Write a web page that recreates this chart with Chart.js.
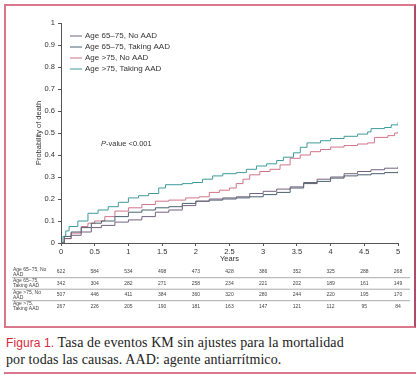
<!DOCTYPE html>
<html>
<head>
<meta charset="utf-8">
<script src="https://cdn.jsdelivr.net/npm/chart.js@4"></script>
<style>
  body { margin: 0; width: 420px; height: 380px; background: #fff; position: relative; overflow: hidden; }
  #frame { position: absolute; left: 4px; top: 4px; width: 408px; height: 320px; border: 2px solid #d9778c; border-right-color: #b04a66; }
  #c { position: absolute; left: 0; top: 0; }
  #cap { position: absolute; left: 6px; top: 334px; font: 14px "Liberation Serif", serif; color: #222; line-height: 17px; letter-spacing: 0.1px; }
  #cap b { font: 500 12px "Liberation Sans", sans-serif; color: #d6283c; }
  #rule { position: absolute; left: 4px; top: 372px; width: 412px; height: 2px; background: #d9778c; }
</style>
</head>
<body>
<div id="frame"></div>
<canvas id="c" width="420" height="330"></canvas>
<div id="cap"><b>Figura 1.</b> Tasa de eventos KM sin ajustes para la mortalidad<br>por todas las causas. AAD: agente antiarrítmico.</div>
<div id="rule"></div>
<script>
const seriesNames = ["Age 65\u201375, No AAD", "Age 65\u201375, Taking AAD", "Age >75, No AAD", "Age >75, Taking AAD"];
const tableLabels = [["Age 65\u201375, No", "AAD"], ["Age 65\u201375,", "Taking AAD"], ["Age >75, No", "AAD"], ["Age >75,", "Taking AAD"]];
const xTicks = [0, 0.5, 1, 1.5, 2, 2.5, 3, 3.5, 4, 4.5, 5];

// time (years) and cumulative probability for each curve
const young_noAAD_t = [0, 0.05, 0.15, 0.3, 0.45, 0.6, 0.8, 1.0, 1.2, 1.4, 1.6, 1.8, 2.0, 2.2, 2.4, 2.6, 2.8, 3.0, 3.2, 3.4, 3.6, 3.8, 4.0, 4.2, 4.4, 4.6, 4.8, 5];
const young_noAAD_p = [0, 0.02, 0.035, 0.05, 0.07, 0.08, 0.095, 0.105, 0.12, 0.14, 0.15, 0.17, 0.19, 0.2, 0.205, 0.21, 0.225, 0.235, 0.245, 0.255, 0.275, 0.29, 0.3, 0.315, 0.325, 0.333, 0.34, 0.347];

const young_AAD_t = [0, 0.05, 0.15, 0.3, 0.45, 0.6, 0.8, 1.0, 1.2, 1.4, 1.6, 1.8, 2.0, 2.2, 2.4, 2.6, 2.8, 3.0, 3.2, 3.4, 3.6, 3.8, 4.0, 4.2, 4.4, 4.6, 4.8, 5];
const young_AAD_p = [0, 0.03, 0.05, 0.07, 0.09, 0.1, 0.12, 0.14, 0.15, 0.16, 0.165, 0.18, 0.19, 0.195, 0.2, 0.205, 0.21, 0.22, 0.23, 0.25, 0.27, 0.28, 0.295, 0.305, 0.31, 0.315, 0.32, 0.325];

const old_noAAD_t = [0, 0.05, 0.15, 0.3, 0.4, 0.5, 0.65, 0.8, 1.0, 1.2, 1.4, 1.6, 1.85, 2.05, 2.2, 2.35, 2.5, 2.6, 2.7, 2.8, 2.95, 3.1, 3.25, 3.4, 3.55, 3.7, 3.85, 4.0, 4.2, 4.4, 4.55, 4.65, 4.85, 4.95, 5];
const old_noAAD_p = [0, 0.02, 0.045, 0.075, 0.09, 0.1, 0.12, 0.145, 0.16, 0.175, 0.19, 0.195, 0.205, 0.21, 0.23, 0.24, 0.25, 0.27, 0.29, 0.31, 0.325, 0.335, 0.355, 0.385, 0.4, 0.415, 0.425, 0.436, 0.443, 0.45, 0.455, 0.48, 0.488, 0.5, 0.505];

const old_AAD_t = [0, 0.03, 0.07, 0.12, 0.25, 0.4, 0.55, 0.7, 0.85, 1.0, 1.15, 1.3, 1.45, 1.55, 1.8, 1.95, 2.1, 2.25, 2.4, 2.6, 2.75, 2.9, 3.05, 3.2, 3.3, 3.45, 3.55, 3.65, 3.85, 4.0, 4.2, 4.4, 4.55, 4.6, 4.8, 4.9, 5];
const old_AAD_p = [0, 0.03, 0.055, 0.075, 0.1, 0.135, 0.15, 0.165, 0.185, 0.205, 0.215, 0.225, 0.25, 0.265, 0.27, 0.275, 0.29, 0.305, 0.315, 0.32, 0.335, 0.35, 0.36, 0.375, 0.39, 0.41, 0.435, 0.455, 0.465, 0.475, 0.485, 0.495, 0.505, 0.52, 0.525, 0.537, 0.548];

// number at risk
const risk_young_noAAD = [622, 584, 534, 498, 473, 428, 386, 352, 325, 288, 268];
const risk_young_AAD = [342, 304, 282, 271, 258, 234, 221, 202, 189, 161, 149];
const risk_old_noAAD = [507, 446, 411, 384, 360, 320, 280, 244, 220, 195, 170];
const risk_old_AAD = [267, 226, 205, 190, 181, 163, 147, 121, 112, 95, 84];

const pValueText = ["P", "-value <0.001"];

const colors = ["#74627f", "#4a616e", "#d0748a", "#3f9a9c"];

function pts(t, p) {
  return t.map((x, i) => ({ x: x, y: p[i] }));
}

const curves = [
  pts(young_noAAD_t, young_noAAD_p),
  pts(young_AAD_t, young_AAD_p),
  pts(old_noAAD_t, old_noAAD_p),
  pts(old_AAD_t, old_AAD_p)
];
const riskRows = [risk_young_noAAD, risk_young_AAD, risk_old_noAAD, risk_old_AAD];

const fmt = v => String(Math.round(v * 10) / 10);

const extras = {
  id: "extras",
  afterDraw(chart) {
    const ctx = chart.ctx;
    const xs = chart.scales.x;
    ctx.save();

    // legend
    ctx.font = "8px 'Liberation Sans', Arial, sans-serif";
    ctx.textBaseline = "middle";
    ctx.textAlign = "left";
    seriesNames.forEach((name, i) => {
      const y = 36 + i * 11;
      ctx.strokeStyle = colors[i];
      ctx.lineWidth = 1;
      ctx.beginPath();
      ctx.moveTo(70, y);
      ctx.lineTo(82, y);
      ctx.stroke();
      ctx.fillStyle = "#333";
      ctx.fillText(name, 85, y);
    });

    // p-value
    ctx.font = "italic 7.5px 'Liberation Sans', Arial, sans-serif";
    ctx.fillStyle = "#333";
    ctx.fillText(pValueText[0], 101, 144);
    const w = ctx.measureText(pValueText[0]).width;
    ctx.font = "7.5px 'Liberation Sans', Arial, sans-serif";
    ctx.fillText(pValueText[1], 101 + w, 144);

    // number-at-risk table
    const rowY = [272, 283.5, 295, 306.5];
    ctx.font = "5px 'Liberation Sans', Arial, sans-serif";
    ctx.fillStyle = "#444";
    tableLabels.forEach((lines, r) => {
      ctx.textAlign = "left";
      ctx.fillText(lines[0], 13, rowY[r] - 2.6);
      ctx.fillText(lines[1], 13, rowY[r] + 2.6);
      ctx.textAlign = "center";
      riskRows[r].forEach((v, i) => {
        ctx.fillText(String(v), xs.getPixelForValue(xTicks[i]), rowY[r]);
      });
    });
    ctx.strokeStyle = "#aaa";
    ctx.lineWidth = 1;
    [277.7, 289.2, 300.7].forEach(y => {
      ctx.beginPath();
      ctx.moveTo(12, y);
      ctx.lineTo(410, y);
      ctx.stroke();
    });
    ctx.restore();
  }
};

new Chart(document.getElementById("c").getContext("2d"), {
  type: "line",
  data: {
    datasets: curves.map((d, i) => ({
      label: seriesNames[i],
      data: d,
      borderColor: colors[i],
      borderWidth: 1,
      pointRadius: 0,
      stepped: true,
      fill: false
    }))
  },
  options: {
    responsive: false,
    animation: false,
    layout: { padding: { left: 32, right: 22, top: 23, bottom: 67 } },
    plugins: { legend: { display: false }, tooltip: { enabled: false } },
    scales: {
      x: {
        type: "linear",
        min: 0,
        max: 5,
        afterFit: s => { s.height = 20; },
        afterBuildTicks: s => { s.ticks = xTicks.map(v => ({ value: v })); },
        ticks: {
          color: "#333",
          font: { size: 7.5, family: "'Liberation Sans', Arial" },
          padding: 1,
          maxRotation: 0,
          callback: fmt
        },
        grid: { drawOnChartArea: false, color: "#555", tickLength: 3 },
        border: { color: "#555" },
        title: { display: true, text: "Years", color: "#333", font: { size: 7.5, family: "'Liberation Sans', Arial" }, padding: 0 }
      },
      y: {
        min: 0,
        max: 1,
        afterFit: s => { s.width = 29; },
        ticks: {
          stepSize: 0.1,
          color: "#333",
          font: { size: 7.5, family: "'Liberation Sans', Arial" },
          padding: 3,
          callback: fmt
        },
        grid: { drawOnChartArea: false, color: "#555", tickLength: 3 },
        border: { color: "#555" },
        title: { display: true, text: "Probability of death", color: "#333", font: { size: 7.5, family: "'Liberation Sans', Arial" }, padding: 2 }
      }
    }
  },
  plugins: [extras]
});
</script>
</body>
</html>
